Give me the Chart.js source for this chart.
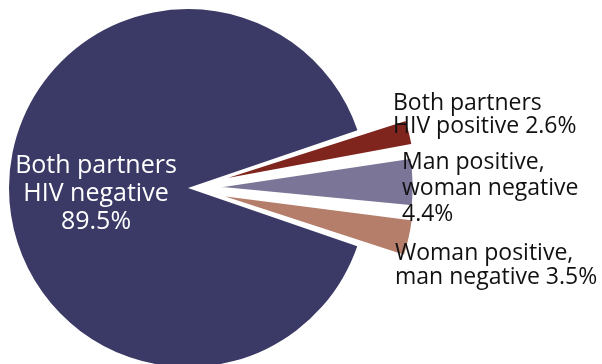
<!DOCTYPE html>
<html>
<head>
<meta charset="utf-8">
<script src="https://cdn.jsdelivr.net/npm/chart.js@4/dist/chart.umd.min.js"></script>
<style>
  html, body { margin: 0; padding: 0; background: #fff; }
  #wrap { width: 602px; height: 364px; overflow: hidden; }
</style>
</head>
<body>
<div id="wrap"><canvas id="partnerChart" width="602" height="364"></canvas></div>
<script>
// HIV status of couples, share of all couples (%)
const categories = [
    'Both partners HIV negative',
    'Both partners HIV positive',
    'Man positive, woman negative',
    'Woman positive, man negative'
];
const shares = [89.5, 2.6, 4.4, 3.5];
const sliceColors = ['#3b3965', '#80251d', '#7b7598', '#b57e6b'];
// chart.js moves an arc by a quarter of its offset
const sliceOffsets = [0, 108, 108, 108];

// label text: the share gets appended to the last line
const labelLines = [
    ['Both partners', 'HIV negative', ''],
    ['Both partners', 'HIV positive '],
    ['Man positive,', 'woman negative', ''],
    ['Woman positive,', 'man negative ']
];

const FONT = '"Open Sans", Lato, sans-serif';

// where each label block sits: x, first baseline, line height, alignment, size, colour
const labelLayout = [
    { x: 96, y: 173, lh: 28, align: 'center', size: 25, color: '#ffffff' },
    { x: 393, y: 110, lh: 23, align: 'left', size: 23, color: '#111111' },
    { x: 402, y: 169, lh: 26, align: 'left', size: 23, color: '#111111' },
    { x: 395, y: 260, lh: 24, align: 'left', size: 23, color: '#111111' }
];

const sliceLabels = {
    id: 'sliceLabels',
    afterDatasetsDraw(chart) {
        const ctx = chart.ctx;
        ctx.save();
        ctx.textBaseline = 'alphabetic';
        labelLines.forEach((lines, i) => {
            const lay = labelLayout[i];
            ctx.font = lay.size + 'px ' + FONT;
            ctx.fillStyle = lay.color;
            ctx.textAlign = lay.align;
            lines.forEach((line, j) => {
                let txt = line;
                if (j === lines.length - 1) txt += shares[i].toFixed(1) + '%';
                ctx.fillText(txt, lay.x, lay.y + j * lay.lh);
            });
        });
        ctx.restore();
    }
};

const partnerCtx = document.getElementById('partnerChart').getContext('2d');
const partnerChart = new Chart(partnerCtx, {
    type: 'pie',
    data: {
        labels: categories,
        datasets: [{
            data: shares,
            backgroundColor: sliceColors,
            borderColor: '#ffffff',
            borderWidth: [0, 2, 2, 2],
            offset: sliceOffsets,
            hoverOffset: 0,
            clip: false
        }]
    },
    options: {
        responsive: false,
        animation: false,
        rotation: 109,
        radius: 179,
        layout: {
            padding: { left: 0, right: 226, top: 12, bottom: 0 }
        },
        plugins: {
            legend: { display: false },
            tooltip: { enabled: false }
        },
        events: []
    },
    plugins: [sliceLabels]
});
</script>
</body>
</html>
